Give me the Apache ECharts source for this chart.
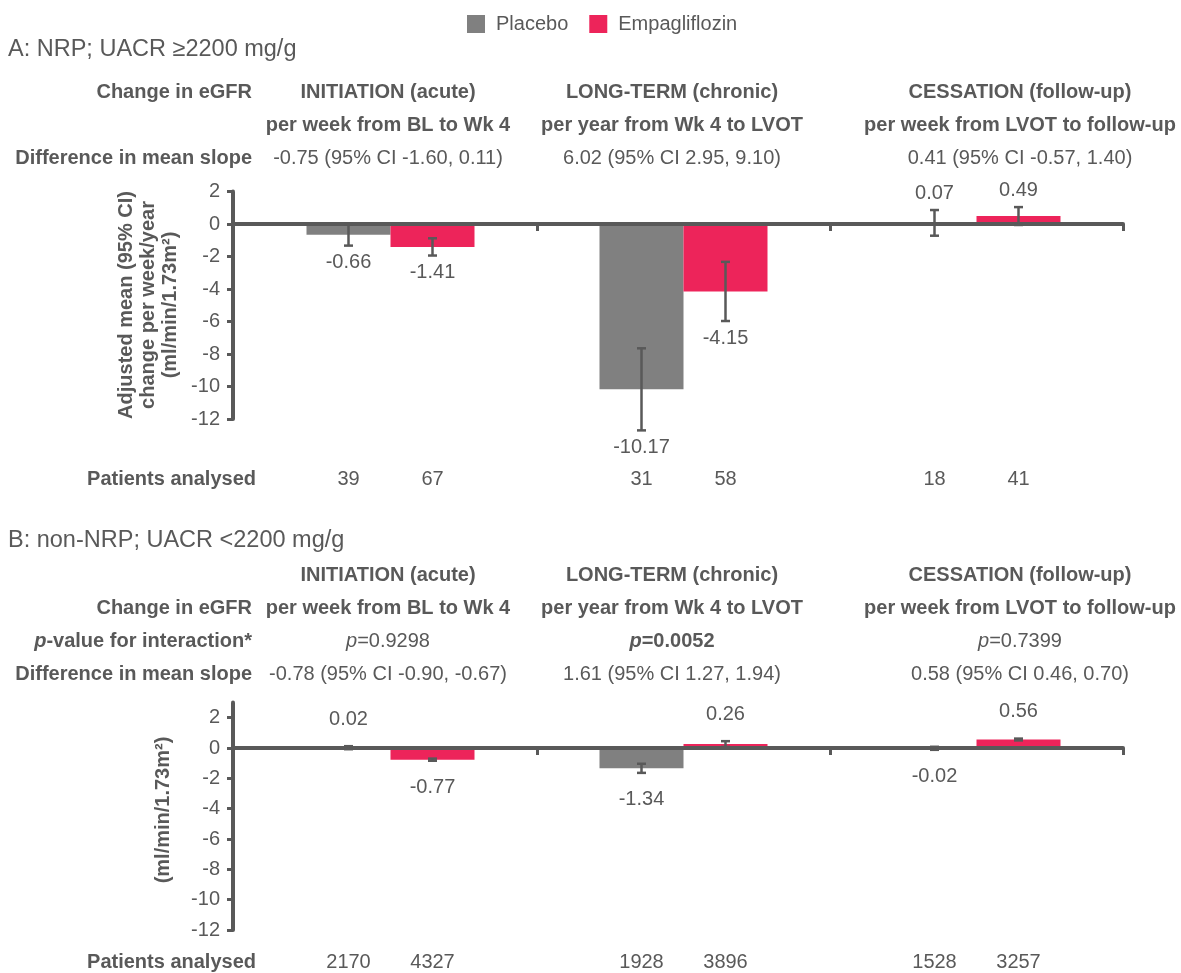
<!DOCTYPE html>
<html>
<head>
<meta charset="utf-8">
<script src="https://cdn.jsdelivr.net/npm/echarts@6/dist/echarts.min.js"></script>
<style>
  html, body { margin: 0; padding: 0; background: #ffffff; }
  #chart { width: 1181px; height: 973px; }
</style>
</head>
<body>
<div id="chart"></div>
<script>
// ---- Data ---------------------------------------------------------------
const groups = ['Placebo', 'Empagliflozin'];
const phases = ['INITIATION (acute)', 'LONG-TERM (chronic)', 'CESSATION (follow-up)'];
const phaseSpans = ['per week from BL to Wk 4', 'per year from Wk 4 to LVOT', 'per week from LVOT to follow-up'];
const yTicksA = [-12, -10, -8, -6, -4, -2, 0, 2];
const yTicksB = [-12, -10, -8, -6, -4, -2, 0, 2];

// A: NRP; UACR >=2200 mg/g
const placeboA = [-0.66, -10.17, 0.07];
const placeboA_ciLow = [-1.33, -12.70, -0.72];
const placeboA_ciHigh = [0.01, -7.65, 0.86];
const empaA = [-1.41, -4.15, 0.49];
const empaA_ciLow = [-1.94, -5.97, -0.06];
const empaA_ciHigh = [-0.88, -2.33, 1.04];
const nPlaceboA = [39, 31, 18];
const nEmpaA = [67, 58, 41];
const diffA = ['-0.75 (95% CI -1.60, 0.11)', '6.02 (95% CI 2.95, 9.10)', '0.41 (95% CI -0.57, 1.40)'];

// B: non-NRP; UACR <2200 mg/g
const placeboB = [0.02, -1.34, -0.02];
const placeboB_ciLow = [-0.08, -1.64, -0.12];
const placeboB_ciHigh = [0.12, -1.04, 0.08];
const empaB = [-0.77, 0.26, 0.56];
const empaB_ciLow = [-0.84, 0.07, 0.50];
const empaB_ciHigh = [-0.70, 0.45, 0.62];
const nPlaceboB = [2170, 1928, 1528];
const nEmpaB = [4327, 3896, 3257];
const diffB = ['-0.78 (95% CI -0.90, -0.67)', '1.61 (95% CI 1.27, 1.94)', '0.58 (95% CI 0.46, 0.70)'];
const pInteractionB = ['0.9298', '0.0052', '0.7399'];
const pSignificantB = [false, true, false];

// ---- Styling / layout ---------------------------------------------------
const TEXT = '#595959';
const AXIS = '#595959';
const GRAY = '#808080';
const PINK = '#ED245A';
const FONT = '"Liberation Sans", Arial, Helvetica, sans-serif';
const FS = 20;
const GRID_LEFT = 244;
const GRID_RIGHT = 58;
const Y_OFFSET = 11;
const BAR_W = 84;
const COL_X = [388, 672, 1020];
const ROW_LABEL_X = 252;

const chart = echarts.init(document.getElementById('chart'), null, { renderer: 'canvas' });

function text(id, x, y, str, opts) {
  opts = opts || {};
  return {
    type: 'text', id: id, x: x, y: y, silent: true,
    rotation: opts.rotation || 0,
    style: {
      text: str,
      fill: TEXT,
      fontFamily: FONT,
      fontSize: opts.fontSize || FS,
      fontWeight: opts.bold ? 'bold' : 'normal',
      align: opts.align || 'center',
      textAlign: opts.align || 'center',
      verticalAlign: 'middle',
      textVerticalAlign: 'middle',
      lineHeight: opts.lineHeight,
      rich: opts.rich
    }
  };
}

const italicRich = {
  i: { fontStyle: 'italic', fontFamily: FONT, fontSize: FS, fill: TEXT, color: TEXT },
  bi: { fontStyle: 'italic', fontWeight: 'bold', fontFamily: FONT, fontSize: FS, fill: TEXT, color: TEXT },
  b: { fontWeight: 'bold', fontFamily: FONT, fontSize: FS, fill: TEXT, color: TEXT }
};

const graphics = [];
// Panel A header
graphics.push(text('titleA', 8, 50, 'A: NRP; UACR \u22652200 mg/g', { align: 'left', fontSize: 23.5 }));
graphics.push(text('aRow1', ROW_LABEL_X, 92, 'Change in eGFR', { align: 'right', bold: true }));
graphics.push(text('aRow3', ROW_LABEL_X, 158, 'Difference in mean slope', { align: 'right', bold: true }));
phases.forEach((p, i) => {
  graphics.push(text('aPh' + i, COL_X[i], 92, p, { bold: true }));
  graphics.push(text('aSp' + i, COL_X[i], 125, phaseSpans[i], { bold: true }));
  graphics.push(text('aDf' + i, COL_X[i], 158, diffA[i]));
});
graphics.push(text('aYName', 148, 305,
  'Adjusted mean (95% CI)\nchange per week/year\n(ml/min/1.73m\u00b2)',
  { bold: true, rotation: Math.PI / 2, lineHeight: 22 }));
graphics.push(text('aPat', 256, 479, 'Patients analysed', { align: 'right', bold: true }));

// Panel B header
graphics.push(text('titleB', 8, 541, 'B: non-NRP; UACR <2200 mg/g', { align: 'left', fontSize: 23.5 }));
graphics.push(text('bRow2', ROW_LABEL_X, 608, 'Change in eGFR', { align: 'right', bold: true }));
graphics.push(text('bRow3', ROW_LABEL_X, 641, '{bi|p}-value for interaction*', { align: 'right', bold: true, rich: italicRich }));
graphics.push(text('bRow4', ROW_LABEL_X, 674, 'Difference in mean slope', { align: 'right', bold: true }));
phases.forEach((p, i) => {
  graphics.push(text('bPh' + i, COL_X[i], 575, p, { bold: true }));
  graphics.push(text('bSp' + i, COL_X[i], 608, phaseSpans[i], { bold: true }));
  graphics.push(text('bP' + i, COL_X[i], 641,
    pSignificantB[i] ? '{bi|p}{b|=' + pInteractionB[i] + '}' : '{i|p}=' + pInteractionB[i],
    { rich: italicRich }));
  graphics.push(text('bDf' + i, COL_X[i], 674, diffB[i]));
});
graphics.push(text('bYName', 163, 810, '(ml/min/1.73m\u00b2)', { bold: true, rotation: Math.PI / 2 }));
graphics.push(text('bPat', 256, 962, 'Patients analysed', { align: 'right', bold: true }));

// ---- Axes ---------------------------------------------------------------
function xAxisFor(gridIndex) {
  return {
    type: 'category', gridIndex: gridIndex, data: phases, z: 3,
    axisLine: { onZero: true, lineStyle: { color: AXIS, width: 4 } },
    axisTick: {
      show: true, length: 7, interval: (idx) => idx > 0,
      lineStyle: { color: AXIS, width: 3 }
    },
    axisLabel: { show: false },
    splitLine: { show: false }
  };
}
function yAxisFor(gridIndex, max, ticks) {
  return {
    type: 'value', gridIndex: gridIndex, min: -12, max: max, interval: 2,
    offset: Y_OFFSET, z: 3,
    axisLine: { show: true, lineStyle: { color: AXIS, width: 4 } },
    axisTick: { show: true, length: 6, customValues: ticks, lineStyle: { color: AXIS, width: 3 } },
    axisLabel: { customValues: ticks, color: TEXT, fontSize: FS, fontFamily: FONT, margin: 13 },
    splitLine: { show: false }
  };
}

// ---- Series builders ----------------------------------------------------
function barSeries(name, gridIndex, data, color) {
  return {
    type: 'bar', name: name, xAxisIndex: gridIndex, yAxisIndex: gridIndex,
    data: data, barWidth: BAR_W, barGap: '0%', z: 2, silent: true,
    itemStyle: { color: color }
  };
}

// Confidence-interval whiskers, value labels and patient counts
function ciSeries(gridIndex, placebo, pLo, pHi, empa, eLo, eHi, nP, nE, labelGap, countGap) {
  const data = [];
  for (let i = 0; i < placebo.length; i++) {
    data.push([i, pLo[i], pHi[i], placebo[i], nP[i], 0]);
    data.push([i, eLo[i], eHi[i], empa[i], nE[i], 1]);
  }
  return {
    type: 'custom', xAxisIndex: gridIndex, yAxisIndex: gridIndex, z: 5, silent: true,
    data: data,
    encode: { x: 0, y: [1, 2] },
    renderItem: function (params, api) {
      const idx = api.value(0);
      const lo = api.value(1), hi = api.value(2), v = api.value(3), n = api.value(4), side = api.value(5);
      const cx = api.coord([idx, 0])[0] + (side ? BAR_W / 2 : -BAR_W / 2);
      const yLo = api.coord([idx, lo])[1];
      const yHi = api.coord([idx, hi])[1];
      const cap = 4.5;
      const ls = { stroke: AXIS, lineWidth: 2.5 };
      const labelY = v >= 0 ? yHi - labelGap : yLo + labelGap;
      const gridBottom = params.coordSys.y + params.coordSys.height;
      return {
        type: 'group',
        children: [
          { type: 'line', shape: { x1: cx, y1: yLo, x2: cx, y2: yHi }, style: ls },
          { type: 'line', shape: { x1: cx - cap, y1: yLo, x2: cx + cap, y2: yLo }, style: ls },
          { type: 'line', shape: { x1: cx - cap, y1: yHi, x2: cx + cap, y2: yHi }, style: ls },
          { type: 'text', x: cx, y: labelY, style: {
              text: v.toFixed(2), fill: TEXT, fontSize: FS, fontFamily: FONT,
              align: 'center', verticalAlign: 'middle' } },
          { type: 'text', x: cx, y: gridBottom + countGap, style: {
              text: String(n), fill: TEXT, fontSize: FS, fontFamily: FONT,
              align: 'center', verticalAlign: 'middle' } }
        ]
      };
    }
  };
}

// Short piece of the zero line between the offset y-axis and the plot area
function zeroStub(gridIndex) {
  return {
    type: 'custom', xAxisIndex: gridIndex, yAxisIndex: gridIndex, z: 4, silent: true,
    data: [[0, 0]],
    renderItem: function (params, api) {
      const y = api.coord([0, 0])[1];
      const x0 = params.coordSys.x;
      return { type: 'line', shape: { x1: x0 - Y_OFFSET - 1, y1: y, x2: x0 + 1, y2: y },
               style: { stroke: AXIS, lineWidth: 4 } };
    }
  };
}

const option = {
  animation: false,
  backgroundColor: '#ffffff',
  textStyle: { fontFamily: FONT, color: TEXT },
  legend: {
    data: groups, left: 462, top: 9, icon: 'rect',
    itemWidth: 18, itemHeight: 18, itemGap: 21,
    textStyle: { color: TEXT, fontSize: FS, fontFamily: FONT, padding: [0, 0, 0, 6] },
    selectedMode: false
  },
  grid: [
    { left: GRID_LEFT, right: GRID_RIGHT, top: 191.5, height: 227.5 },
    { left: GRID_LEFT, right: GRID_RIGHT, top: 702.5, height: 227.5 }
  ],
  xAxis: [xAxisFor(0), xAxisFor(1)],
  yAxis: [yAxisFor(0, 2, yTicksA), yAxisFor(1, 3, yTicksB)],
  series: [
    barSeries(groups[0], 0, placeboA, GRAY),
    barSeries(groups[1], 0, empaA, PINK),
    barSeries(groups[0], 1, placeboB, GRAY),
    barSeries(groups[1], 1, empaB, PINK),
    zeroStub(0),
    zeroStub(1),
    ciSeries(0, placeboA, placeboA_ciLow, placeboA_ciHigh, empaA, empaA_ciLow, empaA_ciHigh, nPlaceboA, nEmpaA, 17, 60),
    ciSeries(1, placeboB, placeboB_ciLow, placeboB_ciHigh, empaB, empaB_ciLow, empaB_ciHigh, nPlaceboB, nEmpaB, 27, 32)
  ],
  graphic: { elements: graphics }
};

chart.setOption(option);
</script>
</body>
</html>
